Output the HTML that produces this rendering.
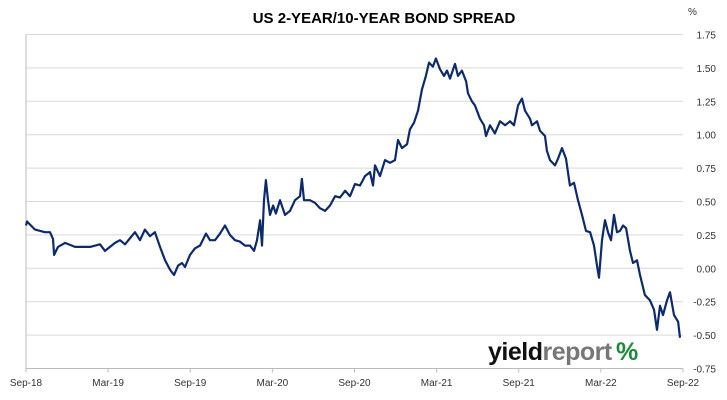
<!DOCTYPE html>
<html><head><meta charset="utf-8"><style>
body{margin:0;background:#fff;width:727px;height:400px;overflow:hidden;font-family:"Liberation Sans",sans-serif}
</style></head><body>
<svg id="chart" width="727" height="400" style="position:absolute;left:0;top:0">
<text x="384" y="23" text-anchor="middle" font-size="15" font-weight="bold" fill="#000">US 2-YEAR/10-YEAR BOND SPREAD</text>
<text x="688" y="15" font-size="10" fill="#333">%</text>
<g id="grid"></g><g id="ylabels"></g><g id="xlabels"></g>
<path id="line" fill="none" stroke="#0d2a6b" stroke-width="2.2" stroke-linejoin="round"/>
<g>
<text x="488" y="360" font-size="25" font-weight="bold" fill="#111" letter-spacing="-0.5">yield<tspan fill="#777">report</tspan></text>
<text x="616" y="360" font-size="25" font-weight="bold" fill="#1a8a3a">%</text>
</g>
</svg>
<script>
const months=[0,0.07,0.66,1.39,1.75,1.97,2.05,2.34,2.85,3.58,4.68,5.41,5.77,6.5,6.87,7.23,7.96,8.33,8.69,9.06,9.42,9.79,10.16,10.52,10.81,11.11,11.4,11.62,11.98,12.35,12.71,13.15,13.44,13.81,14.17,14.54,14.9,15.27,15.63,16,16.37,16.66,16.88,17.1,17.24,17.39,17.53,17.68,17.83,18.05,18.26,18.56,18.92,19.29,19.65,20.02,20.16,20.31,20.75,21.11,21.48,21.85,22.21,22.58,22.94,23.31,23.67,24.04,24.4,24.77,25.13,25.35,25.5,25.86,26.23,26.59,26.96,27.18,27.47,27.84,28.05,28.35,28.64,28.93,29.22,29.44,29.73,29.95,30.25,30.54,30.76,30.98,31.34,31.56,31.85,32.15,32.29,32.58,32.8,33.17,33.46,33.61,33.9,34.26,34.63,35,35.36,35.65,35.95,36.24,36.46,36.82,36.97,37.33,37.55,37.92,38.06,38.28,38.65,38.87,39.16,39.45,39.74,40.04,40.33,40.62,40.91,41.21,41.5,41.72,41.86,42.08,42.3,42.52,42.74,42.96,43.18,43.4,43.62,43.84,44.13,44.35,44.64,44.86,45.22,45.59,45.88,46.1,46.32,46.54,46.83,47.05,47.34,47.64,47.78];
const spread=[0.32,0.35,0.29,0.27,0.27,0.22,0.10,0.16,0.19,0.16,0.16,0.18,0.13,0.19,0.21,0.18,0.27,0.21,0.29,0.24,0.27,0.16,0.06,-0.01,-0.05,0.02,0.04,0.01,0.10,0.15,0.17,0.26,0.21,0.21,0.26,0.32,0.25,0.21,0.20,0.17,0.17,0.13,0.21,0.36,0.17,0.51,0.66,0.51,0.40,0.47,0.41,0.51,0.40,0.43,0.51,0.54,0.67,0.51,0.51,0.49,0.45,0.43,0.47,0.54,0.53,0.58,0.54,0.63,0.62,0.69,0.72,0.62,0.77,0.69,0.81,0.79,0.81,0.96,0.90,0.93,1.04,1.09,1.18,1.34,1.44,1.54,1.51,1.57,1.49,1.44,1.48,1.42,1.53,1.44,1.48,1.40,1.31,1.25,1.22,1.12,1.07,0.99,1.07,1.01,1.10,1.07,1.10,1.07,1.22,1.27,1.18,1.12,1.07,1.10,1.03,0.99,0.88,0.81,0.77,0.82,0.90,0.82,0.62,0.64,0.51,0.40,0.28,0.27,0.17,0.02,-0.07,0.21,0.36,0.27,0.21,0.40,0.27,0.28,0.32,0.30,0.13,0.04,0.06,-0.05,-0.20,-0.24,-0.31,-0.46,-0.28,-0.35,-0.24,-0.18,-0.35,-0.40,-0.52];
const yTicks=[1.75,1.5,1.25,1.0,0.75,0.5,0.25,0,-0.25,-0.5,-0.75];
const yTickLabels=["1.75","1.50","1.25","1.00","0.75","0.50","0.25","0.00","-0.25","-0.50","-0.75"];
const xTicks=[0,6,12,18,24,30,36,42,48];
const xTickLabels=["Sep-18","Mar-19","Sep-19","Mar-20","Sep-20","Mar-21","Sep-21","Mar-22","Sep-22"];
const L=26,R=683,T=34.5,B=368.5,ymin=-0.75,ymax=1.75,xmax=48;
const xs=m=>L+(R-L)*m/xmax, ys=v=>B-(B-T)*(v-ymin)/(ymax-ymin);
const NS="http://www.w3.org/2000/svg";
const g=document.getElementById('grid'),yl=document.getElementById('ylabels'),xl=document.getElementById('xlabels');
yTicks.forEach((v,i)=>{
 const ln=document.createElementNS(NS,'line');
 ln.setAttribute('x1',L);ln.setAttribute('x2',R);ln.setAttribute('y1',ys(v));ln.setAttribute('y2',ys(v));
 ln.setAttribute('stroke',v===ymin?'#bbb':'#d9d9d9');ln.setAttribute('stroke-width','1');
 
 
 g.appendChild(ln);
 const t=document.createElementNS(NS,'text');
 t.setAttribute('x',716);t.setAttribute('y',ys(v)+4);t.setAttribute('text-anchor','end');t.setAttribute('font-size','10');t.setAttribute('fill','#333');
 t.textContent=yTickLabels[i];
 
 
 yl.appendChild(t);
});
const ax=document.createElementNS(NS,'line');
ax.setAttribute('x1',L);ax.setAttribute('x2',L);ax.setAttribute('y1',T);ax.setAttribute('y2',B);ax.setAttribute('stroke','#bbb');


g.appendChild(ax);
xTicks.forEach((m,i)=>{
 const tk=document.createElementNS(NS,'line');
 tk.setAttribute('x1',xs(m));tk.setAttribute('x2',xs(m));tk.setAttribute('y1',B);tk.setAttribute('y2',B+4);tk.setAttribute('stroke','#bbb');
 
 
 g.appendChild(tk);
 const t=document.createElementNS(NS,'text');
 t.setAttribute('x',xs(m));t.setAttribute('y',386);t.setAttribute('text-anchor','middle');t.setAttribute('font-size','10');t.setAttribute('fill','#333');
 t.textContent=xTickLabels[i];
 
 
 xl.appendChild(t);
});
document.getElementById('line').setAttribute('d',months.map((m,i)=>(i?'L':'M')+xs(m).toFixed(1)+','+ys(spread[i]).toFixed(1)).join(''));
</script>
</body></html>
